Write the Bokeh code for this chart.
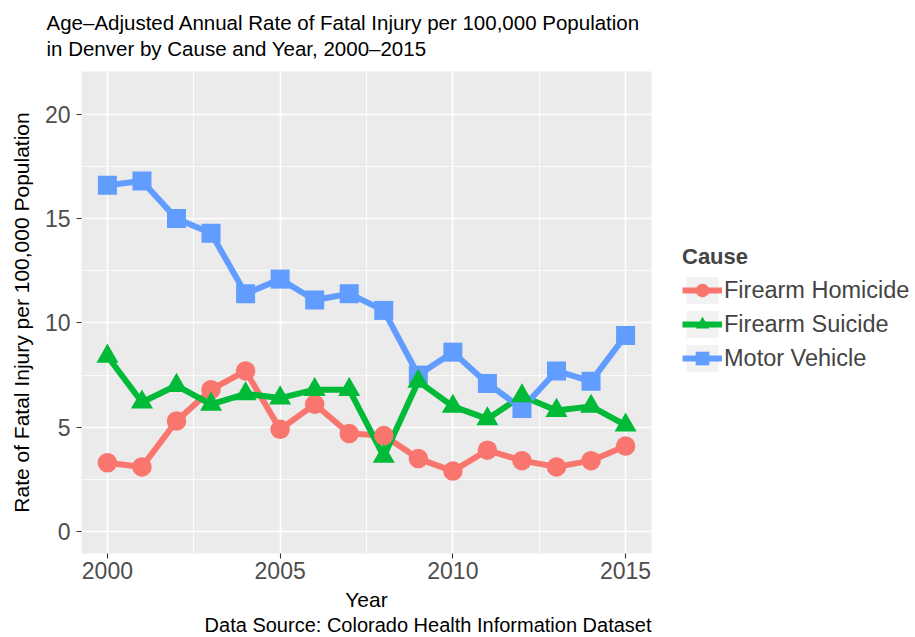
from bokeh.plotting import figure
from bokeh.layouts import row
from bokeh.models import FixedTicker, Legend, LegendItem, ColumnDataSource, Title
from bokeh.embed import file_html
from bokeh.resources import INLINE

# ---- data ----
years = list(range(2000, 2016))
homicide = [3.3, 3.1, 5.3, 6.8, 7.7, 4.9, 6.1, 4.7, 4.6, 3.5, 2.9, 3.9, 3.4, 3.1, 3.4, 4.1]
suicide = [8.4, 6.2, 7.0, 6.1, 6.6, 6.4, 6.8, 6.8, 3.6, 7.2, 6.0, 5.4, 6.5, 5.8, 6.0, 5.1]
motor = [16.6, 16.8, 15.0, 14.3, 11.4, 12.1, 11.1, 11.4, 10.6, 7.5, 8.6, 7.1, 5.9, 7.7, 7.2, 9.4]
causes = ["Firearm Homicide", "Firearm Suicide", "Motor Vehicle"]
x_ticks = [2000, 2005, 2010, 2015]
y_ticks = [0, 5, 10, 15, 20]

title_text = ("Age\u2013Adjusted Annual Rate of Fatal Injury per 100,000 Population\n"
              "in Denver by Cause and Year, 2000\u20132015")
x_title = "Year"
y_title = "Rate of Fatal Injury per 100,000 Population"
caption = "Data Source: Colorado Health Information Dataset"
legend_title = "Cause"

# ---- styles ----
FONT = "Liberation Sans"
colors = ["#F8766D", "#00BA38", "#619CFF"]
markers = ["circle", "triangle", "square"]
msizes = [19.5, 22, 19]
H = 637
MAIN_W, LEG_W = 660, 255
L, R, T, B = 81, 9, 70, 83

src = ColumnDataSource(dict(year=years, homicide=homicide, suicide=suicide, motor=motor))
cols = ["homicide", "suicide", "motor"]

p = figure(width=MAIN_W, height=H, x_range=(1999.25, 2015.75), y_range=(-1.05, 22.05),
           output_backend="svg", toolbar_location=None,
           min_border_left=L, min_border_right=R, min_border_top=T, min_border_bottom=B)
p.background_fill_color = "#EBEBEB"
p.border_fill_color = "white"
p.outline_line_color = None

mid = lambda t: [(a + b) / 2 for a, b in zip(t, t[1:])]
p.xaxis.ticker = FixedTicker(ticks=x_ticks, minor_ticks=mid(x_ticks))
p.yaxis.ticker = FixedTicker(ticks=y_ticks, minor_ticks=mid(y_ticks))

for g in (p.xgrid[0], p.ygrid[0]):
    g.grid_line_color = "white"
    g.grid_line_width = 1.6
    g.minor_grid_line_color = "white"
    g.minor_grid_line_width = 0.8

for ax in (p.xaxis[0], p.yaxis[0]):
    ax.axis_line_color = None
    ax.major_tick_line_color = "#333333"
    ax.major_tick_line_width = 1.1
    ax.major_tick_out = 5
    ax.major_tick_in = 0
    ax.minor_tick_line_color = None
    ax.major_label_text_font = FONT
    ax.major_label_text_font_size = "23px"
    ax.major_label_text_color = "#4D4D4D"
    ax.axis_label_text_font = FONT
    ax.axis_label_text_font_size = "21px"
    ax.axis_label_text_font_style = "normal"
    ax.axis_label_text_color = "black"

p.xaxis.axis_label = x_title
p.yaxis.axis_label = y_title
p.xaxis.major_label_standoff = 3
p.yaxis.major_label_standoff = 6
p.xaxis.axis_label_standoff = 6
p.yaxis.axis_label_standoff = 9

for c, col in zip(cols, colors):
    p.line("year", c, source=src, line_color=col, line_width=6, line_join="round")
for i in [0, 2, 1]:
    c = cols[i]
    p.scatter("year", c, source=src, marker=markers[i], size=msizes[i],
              fill_color=colors[i], line_color=None)

p.add_layout(Title(text=title_text, align="left", offset=-35, vertical_align="top",
                   standoff=20, text_font=FONT, text_font_size="20.5px",
                   text_font_style="normal", text_line_height=1.15, text_color="black"), "above")
p.add_layout(Title(text=caption, align="right", vertical_align="top", standoff=0,
                   text_font=FONT, text_font_size="20px", text_font_style="normal",
                   text_color="black"), "below")

# ---- legend panel: its own figure; the same series, kept out of its view, give the keys ----
lf = figure(width=LEG_W, height=H, x_range=(0, 1), y_range=(0, 1),
            x_axis_type=None, y_axis_type=None, output_backend="svg",
            toolbar_location=None, min_border=0)
lf.outline_line_color = None
lf.background_fill_color = "white"
lf.border_fill_color = "white"

items = []
for name, c, col, mk in zip(causes, cols, colors, markers):
    bg = lf.quad(left="year", right="year", top=c, bottom=c, source=src,
                 fill_color="#F2F2F2", line_color=None)
    ln = lf.line("year", c, source=src, line_color=col, line_width=6)
    sc = lf.scatter("year", c, source=src, marker=mk, fill_color=col, line_color=None)
    items.append(LegendItem(label=name, renderers=[bg, ln, sc]))

legend = Legend(items=items, location=(22, 178), orientation="vertical",
                title=legend_title, title_text_font=FONT, title_text_font_size="22px",
                title_text_font_style="bold", title_standoff=3,
                label_text_font=FONT, label_text_font_size="23.5px", label_standoff=2,
                glyph_width=40, glyph_height=34, spacing=0, padding=0, margin=0,
                border_line_color=None, background_fill_alpha=0)
lf.add_layout(legend)

layout = row(p, lf)
open("out.html", "w").write(file_html(layout, INLINE))
